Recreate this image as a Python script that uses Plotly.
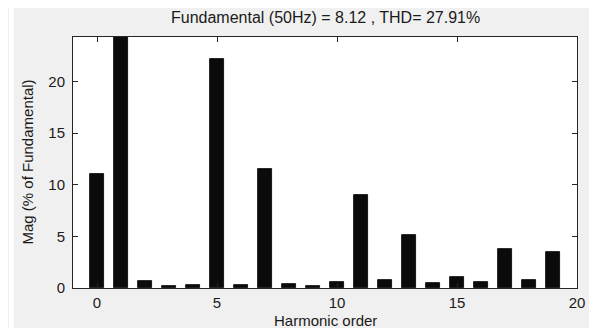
import plotly.graph_objects as go

harmonic_order = list(range(0, 20))
magnitude_pct = [11.05, 100.0, 0.63, 0.15, 0.25, 22.15, 0.25, 11.5, 0.37, 0.24,
                 0.6, 9.0, 0.73, 5.15, 0.5, 1.05, 0.6, 3.76, 0.73, 3.5]
title_text = "Fundamental (50Hz) = 8.12 , THD= 27.91%"
x_ticks = [0, 5, 10, 15, 20]
y_ticks = [0, 5, 10, 15, 20]

FONT = "Liberation Sans, Arial, sans-serif"
TXT = "#1a1a1a"
FS = 15

fig = go.Figure()
fig.add_trace(go.Bar(
    x=harmonic_order, y=magnitude_pct, width=0.57,
    marker=dict(color="#0b0b0b", line=dict(color="#000000", width=0.8)),
    showlegend=False,
))

axis_common = dict(
    showgrid=False, zeroline=False, showline=True, linecolor="#262626", linewidth=1,
    mirror="ticks", ticks="inside", ticklen=5, tickcolor="#262626", tickwidth=1,
    tickfont=dict(family=FONT, size=FS, color=TXT),
)
fig.update_xaxes(range=[-1, 20], tickvals=x_ticks, ticklabelstandoff=1, **axis_common)
fig.update_yaxes(range=[0, 24.3], tickvals=y_ticks, ticklabelstandoff=4, **axis_common)

# page body margin places the figure at (8, 8); figure fills the rest of the window
fig.update_layout(
    width=589, height=320,
    margin=dict(l=65, r=12, t=29, b=40, pad=0),
    paper_bgcolor="#f0f0f0", plot_bgcolor="#ffffff",
    bargap=0,
    annotations=[
        dict(text=title_text, xref="paper", yref="paper", x=0.5, y=1, yshift=20,
             showarrow=False, xanchor="center", yanchor="middle",
             font=dict(family=FONT, size=16, color=TXT)),
        dict(text="Harmonic order", xref="paper", yref="paper", x=0.5, y=0, yshift=-32,
             showarrow=False, xanchor="center", yanchor="middle",
             font=dict(family=FONT, size=FS, color=TXT)),
        dict(text="Mag (% of Fundamental)", xref="paper", yref="paper", x=0, y=0.5,
             xshift=-46, textangle=-90, showarrow=False, xanchor="center", yanchor="middle",
             font=dict(family=FONT, size=FS, color=TXT)),
    ],
    shapes=[
        dict(type="rect", xref="paper", yref="paper", layer="above",
             x0=-65/512, x1=-60/512, y0=-40/251, y1=1+29/251,
             fillcolor="#ffffff", line=dict(width=0)),
    ],
)

fig.write_html("out.html")
